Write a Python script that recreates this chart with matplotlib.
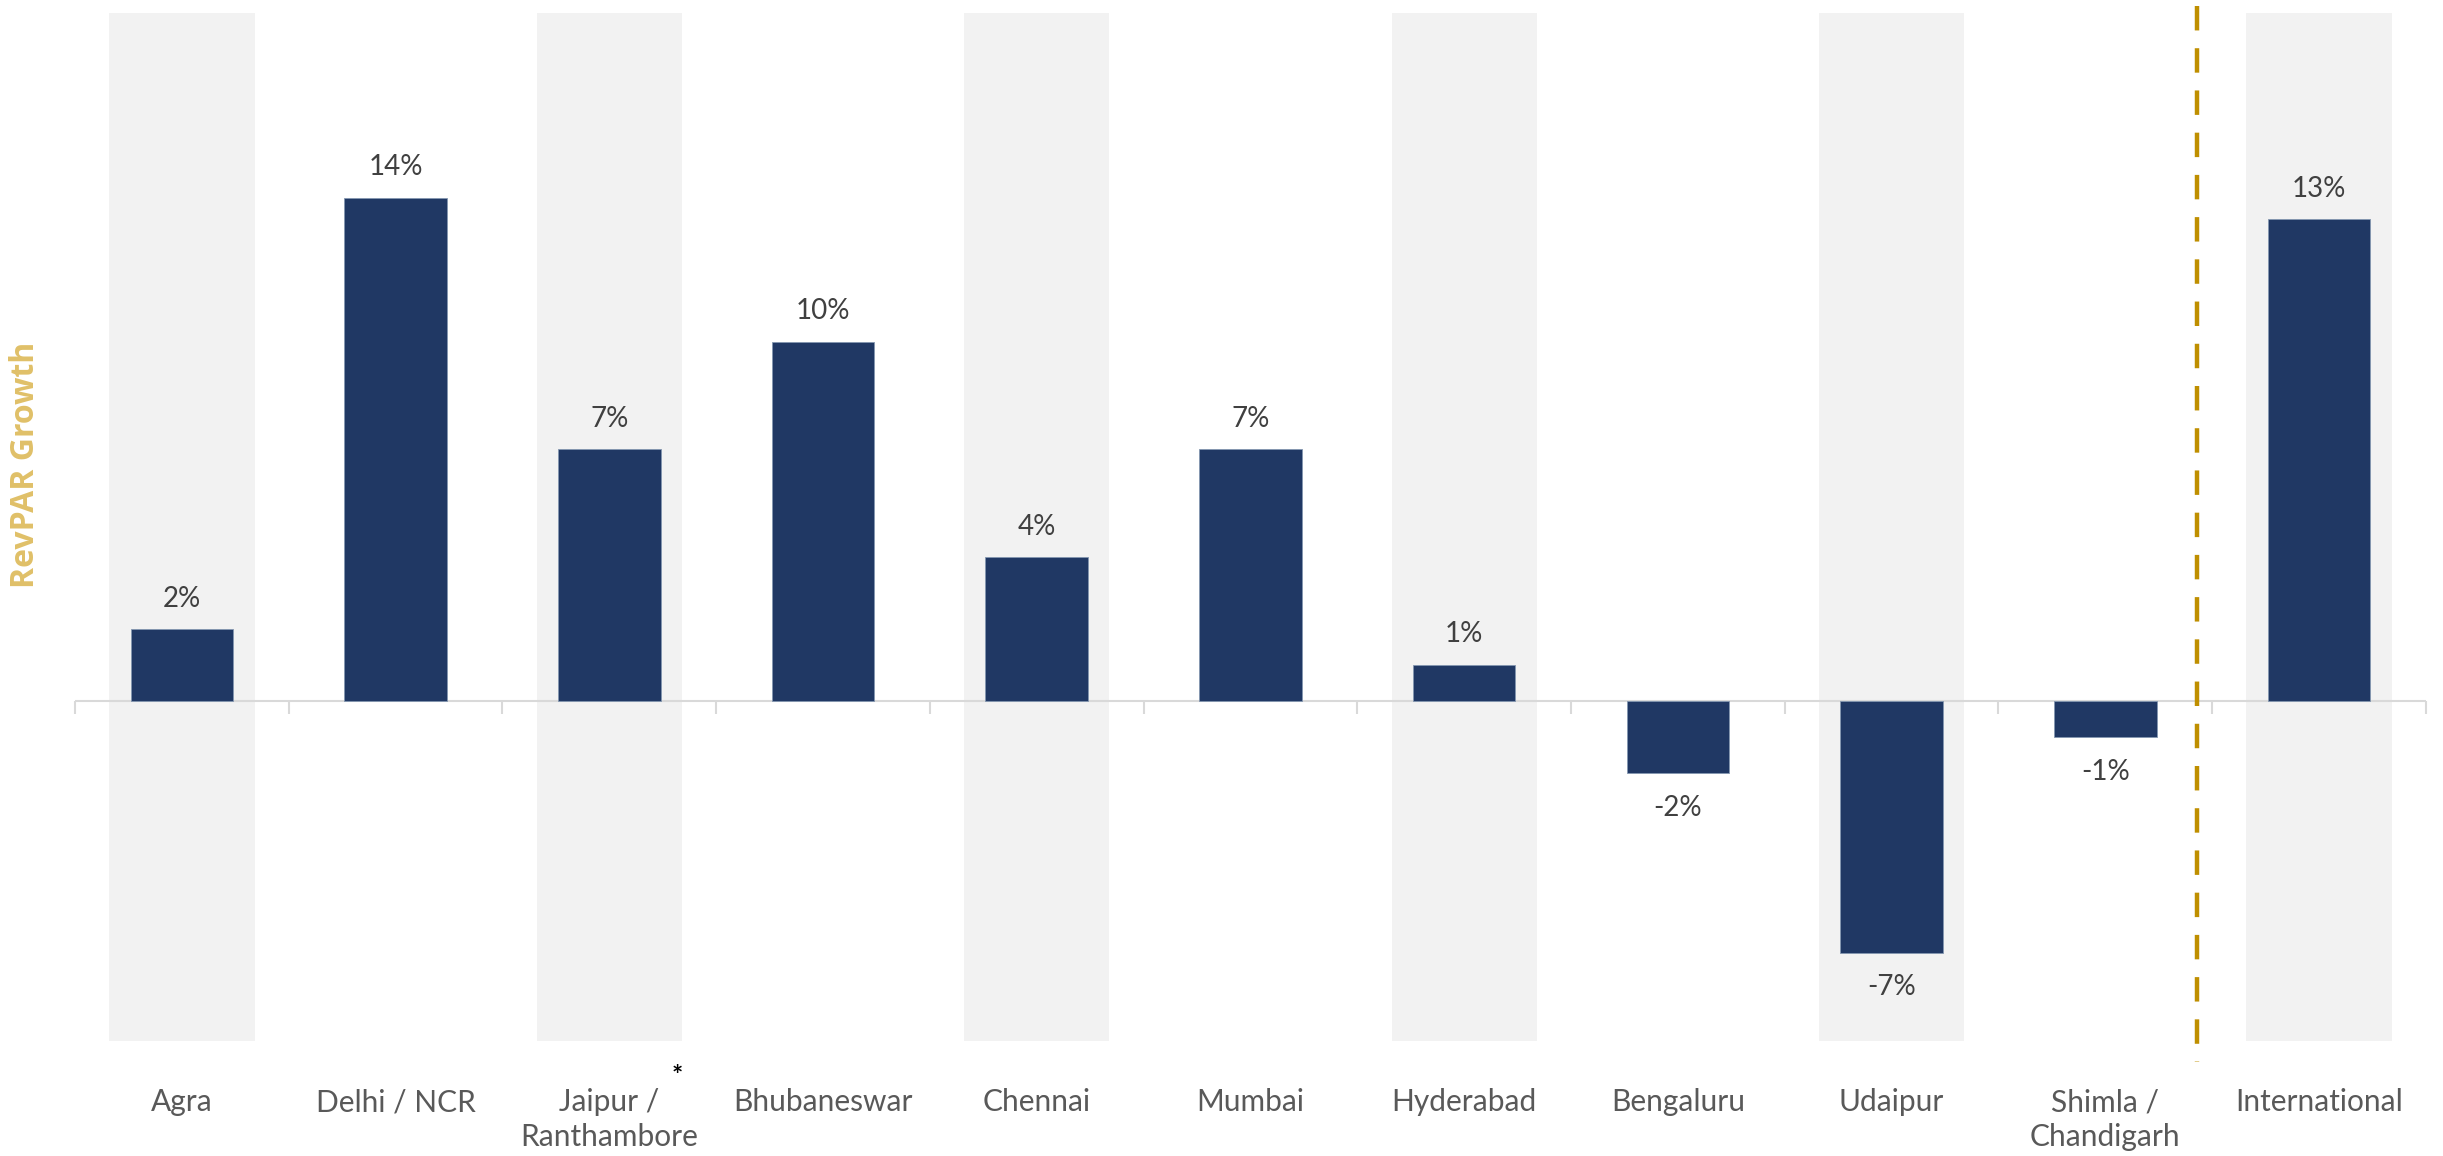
import matplotlib
matplotlib.use("Agg")
import matplotlib.pyplot as plt
import matplotlib.transforms as mtransforms
import numpy as np

# data
cities = ["Agra", "Delhi / NCR", "Jaipur /\nRanthambore", "Bhubaneswar", "Chennai",
          "Mumbai", "Hyderabad", "Bengaluru", "Udaipur", "Shimla /\nChandigarh",
          "International"]
growth = [2.0, 14.0, 7.0, 10.0, 4.0, 7.0, 1.0, -2.0, -7.0, -1.0, 13.4]
value_labels = ["2%", "14%", "7%", "10%", "4%", "7%", "1%", "-2%", "-7%", "-1%", "13%"]

BAR = "#203864"
BAND = "#F2F2F2"
GOLD = "#BF8F00"
LABEL_GOLD = "#E0C068"
TXT = "#404040"
TICKTXT = "#595959"
AXIS = "#D9D9D9"

plt.rcParams["font.family"] = ["Lato", "DejaVu Sans"]

fig = plt.figure(figsize=(24.43, 11.56), dpi=100)
ax = fig.add_axes([0.0307, 0.0995, 0.9623, 0.8895])

ymin, ymax = -9.46, 19.15
x = np.arange(len(cities))

# alternating grey background bands
for i in x[::2]:
    ax.axvspan(i - 0.34, i + 0.34, color=BAND, zorder=0, lw=0)

ax.bar(x, growth, width=0.48, color=BAR, edgecolor="#8497B0", linewidth=0.6, zorder=3)

for xi, v, lab in zip(x, growth, value_labels):
    if v >= 0:
        ax.annotate(lab, (xi, v), xytext=(0, 22), textcoords="offset points",
                    ha="center", va="center", fontsize=20, color=TXT)
    else:
        ax.annotate(lab, (xi, v), xytext=(0, -25), textcoords="offset points",
                    ha="center", va="center", fontsize=20, color=TXT)

ax.set_xlim(-0.5, len(cities) - 0.5)
ax.set_ylim(ymin, ymax)

# category labels at the bottom of the plot area
ax.set_xticks(x)
ax.set_xticklabels(cities, fontsize=21.5, color=TICKTXT, linespacing=1.3, va="top")
ax.tick_params(axis="x", length=0, pad=34)
ax.set_yticks([])
for s in ax.spines.values():
    s.set_visible(False)

# zero line with boundary ticks
ax.axhline(0, color=AXIS, lw=1.5, zorder=2)
zero_loc = (0 - ymin) / (ymax - ymin)
sec = ax.secondary_xaxis(zero_loc)
sec.set_xticks(np.arange(-0.5, len(cities), 1.0))
sec.set_xticklabels([])
sec.tick_params(axis="x", length=9, width=1.5, color=AXIS, direction="out")
sec.spines["bottom"].set_visible(False)

# asterisk next to Jaipur, sitting just above the label
trans = mtransforms.blended_transform_factory(ax.transData, ax.transAxes)
ax.annotate("*", (2.32, 0), xycoords=trans, xytext=(0, -33.5),
            textcoords="offset points", fontsize=19, color="black",
            ha="center", va="bottom", fontweight="bold")

# divider between domestic and international
ax.plot([9.43, 9.43], [1.007, -0.02], transform=trans, color=GOLD, lw=3.2,
        dashes=(5.5, 4), clip_on=False, zorder=4)

fig.text(0.0105, 0.598, "RevPAR Growth", rotation=90, ha="center", va="center",
         fontsize=23, fontweight="bold", color=LABEL_GOLD,
         family=["Open Sans", "DejaVu Sans"])

fig.savefig("out.png", dpi=100, facecolor="white")
